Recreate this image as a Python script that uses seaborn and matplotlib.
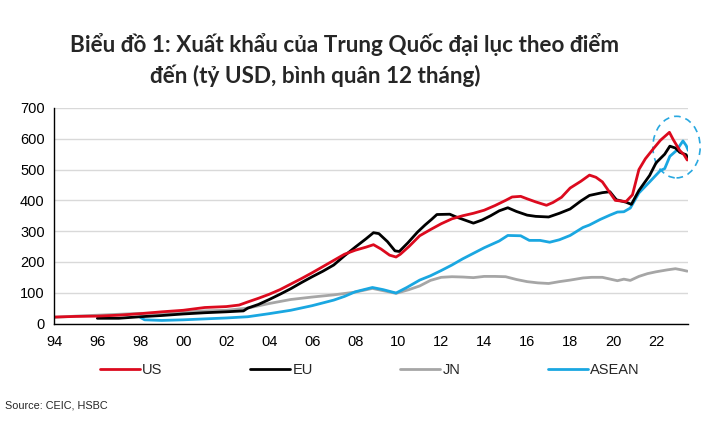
import numpy as np
import pandas as pd
import matplotlib
matplotlib.use("Agg")
import matplotlib.pyplot as plt
from matplotlib.patches import Ellipse
import seaborn as sns

# ---------------- data (12m rolling exports, bn USD) ----------------
us_years = [1994.0, 1995.0, 1996.0, 1997.0, 1998.0, 1999.0, 2000.0, 2001.0, 2002.0, 2002.6,
            2003.0, 2003.5, 2004.0, 2004.5, 2005.0, 2005.5, 2006.0, 2006.5, 2007.0, 2007.5,
            2008.0, 2008.5, 2008.85, 2009.2, 2009.6, 2009.9, 2010.1, 2010.5, 2011.0, 2011.5,
            2012.0, 2012.5, 2013.0, 2013.5, 2014.0, 2014.5, 2015.0, 2015.3, 2015.7, 2016.0,
            2016.4, 2016.9, 2017.2, 2017.6, 2018.0, 2018.5, 2018.9, 2019.2, 2019.5, 2019.8,
            2020.1, 2020.6, 2020.9, 2021.2, 2021.5, 2021.9, 2022.2, 2022.62, 2022.8, 2023.1,
            2023.3, 2023.45]
us_values = [21, 23, 24, 27, 32, 38, 43, 52, 55, 60,
             70, 82, 95, 110, 128, 146, 165, 185, 205, 225,
             238, 248, 256, 242, 222, 216, 225, 250, 285, 305,
             324, 340, 350, 358, 368, 383, 400, 411, 413, 405,
             395, 384, 393, 410, 440, 462, 482, 475, 460, 430,
             400, 396, 418, 500, 535, 570, 595, 621, 597, 562,
             548, 531]

eu_years = [1996.0, 1997.0, 1998.0, 1999.0, 2000.0, 2001.0, 2002.0, 2002.8, 2003.0, 2003.5,
            2004.0, 2004.5, 2005.0, 2005.5, 2006.0, 2006.5, 2007.0, 2007.5, 2008.0, 2008.5,
            2008.85, 2009.1, 2009.5, 2009.85, 2010.05, 2010.45, 2010.9, 2011.25, 2011.55, 2011.8,
            2012.4, 2012.7, 2013.1, 2013.5, 2013.9, 2014.3, 2014.7, 2015.1, 2015.5, 2016.0,
            2016.4, 2017.0, 2017.5, 2018.0, 2018.5, 2018.9, 2019.5, 2019.85, 2020.15, 2020.6,
            2020.85, 2021.2, 2021.7, 2022.0, 2022.4, 2022.64, 2022.9, 2023.1, 2023.4, 2023.45]
eu_values = [17, 17, 22, 26, 31, 35, 38, 41, 50, 62,
             78, 95, 113, 133, 152, 170, 190, 220, 248, 275,
             295, 292, 266, 236, 234, 262, 297, 320, 338, 354,
             355, 346, 336, 326, 336, 350, 366, 376, 364, 352,
             348, 346, 358, 372, 398, 416, 425, 428, 402, 394,
             387, 432, 481, 522, 550, 576, 570, 556, 548, 538]

jn_years = [1994.0, 1995.0, 1996.0, 1997.0, 1998.0, 1999.0, 2000.0, 2001.0, 2002.0, 2003.0,
            2004.0, 2005.0, 2006.0, 2007.0, 2008.0, 2008.8, 2009.2, 2009.9, 2010.5, 2011.0,
            2011.5, 2012.0, 2012.5, 2013.0, 2013.5, 2014.0, 2014.5, 2015.0, 2015.5, 2016.0,
            2016.5, 2017.0, 2017.5, 2018.0, 2018.6, 2019.0, 2019.5, 2020.2, 2020.5, 2020.8,
            2021.2, 2021.6, 2022.0, 2022.5, 2022.9, 2023.2, 2023.45]
jn_values = [20, 24, 27, 30, 33, 34, 37, 41, 43, 50,
             65, 78, 86, 93, 102, 114, 108, 98, 110, 122,
             140, 150, 152, 151, 149, 153, 153, 152, 143, 136,
             132, 130, 136, 141, 148, 150, 150, 139, 144, 140,
             153, 162, 168, 174, 178, 174, 170]

asean_years = [1998.0, 1998.2, 1999.0, 2000.0, 2001.0, 2002.0, 2003.0, 2004.0, 2005.0, 2006.0,
               2007.0, 2007.5, 2008.0, 2008.8, 2009.3, 2009.9, 2010.4, 2011.0, 2011.5, 2012.0,
               2012.5, 2013.0, 2013.5, 2014.0, 2014.7, 2015.1, 2015.7, 2016.1, 2016.6, 2017.05,
               2017.5, 2018.0, 2018.6, 2018.9, 2019.4, 2019.85, 2020.2, 2020.5, 2020.8, 2021.2,
               2021.7, 2022.2, 2022.4, 2022.64, 2022.95, 2023.25, 2023.4, 2023.5]
asean_values = [20, 12, 10, 12, 15, 18, 22, 32, 43, 58,
                76, 88, 103, 117, 110, 99, 117, 141, 155, 172,
                190, 210, 228, 246, 268, 286, 285, 270, 270, 264,
                272, 286, 312, 320, 338, 352, 362, 363, 375, 424,
                460, 497, 503, 543, 562, 593, 578, 562]

series_names = ["US", "EU", "JN", "ASEAN"]
colors = {"US": "#DC0A1E", "EU": "#000000", "JN": "#A6A6A6", "ASEAN": "#1AA7E1"}

x_ticks = list(range(1994, 2023, 2))
x_labels = [f"{y % 100:02d}" for y in x_ticks]
y_ticks = list(range(0, 701, 100))

title_line1 = "Biểu đồ 1: Xuất khẩu của Trung Quốc đại lục theo điểm"
title_line2 = "đến (tỷ USD, bình quân 12 tháng)"
source_text = "Source: CEIC, HSBC"

# ---------------- build long table ----------------
frames = []
for name, yrs, vals in [("US", us_years, us_values), ("EU", eu_years, eu_values),
                        ("JN", jn_years, jn_values), ("ASEAN", asean_years, asean_values)]:
    frames.append(pd.DataFrame({"year": yrs, "value": vals, "series": name}))
df = pd.concat(frames, ignore_index=True)

# ---------------- plot ----------------
sns.set_theme(style="white")
narrow = ["Liberation Sans Narrow", "Liberation Sans", "DejaVu Sans"]
plt.rcParams["font.family"] = narrow

fig = plt.figure(figsize=(7.13, 4.23), dpi=100)
ax = fig.add_axes([0.0762, 0.2352, 0.8892, 0.5095])

order = ["JN", "ASEAN", "EU", "US"]
for name in order:
    sub = df[df["series"] == name]
    sns.lineplot(data=sub, x="year", y="value", ax=ax, color=colors[name],
                 linewidth=2.0, estimator=None, sort=False, label=name, legend=False)

ax.set_xlim(1994, 2023.5)
ax.set_ylim(0, 700)
ax.set_xticks(x_ticks)
ax.set_xticklabels(x_labels)
ax.set_yticks(y_ticks)
ax.set_xlabel("")
ax.set_ylabel("")
ax.yaxis.grid(True, color="#D9D9D9", linewidth=1.0)
ax.xaxis.grid(False)
ax.set_axisbelow(True)
for s in ["top", "right"]:
    ax.spines[s].set_visible(False)
for s in ["left", "bottom"]:
    ax.spines[s].set_color("black")
    ax.spines[s].set_linewidth(1.0)
ax.tick_params(axis="both", which="major", labelsize=10.5, colors="black",
               direction="out", length=4, width=1.0, pad=3)
ax.tick_params(axis="x", length=5)

# dashed ellipse highlighting recent peak
ell = Ellipse((2022.95, 573), width=2.2, height=200, fill=False,
              edgecolor="#29A8E0", linestyle=(0, (4, 3)), linewidth=1.2, clip_on=False)
ax.add_patch(ell)

# legend
line_map = {l.get_label(): l for l in ax.get_lines()}
handles = [line_map[n] for n in series_names]
fig.legend(handles, series_names, loc="center left", bbox_to_anchor=(0.132, 0.125),
           ncol=4, frameon=False, fontsize=10.5, handlelength=2.75, handletextpad=0.15,
           columnspacing=6.0, borderaxespad=0)

# title
fig.text(0.098, 0.895, title_line1, fontsize=16.2, fontweight="bold",
         family=["Lato", "DejaVu Sans"], va="center", ha="left")
fig.text(0.21, 0.822, title_line2, fontsize=16.2, fontweight="bold",
         family=["Lato", "DejaVu Sans"], va="center", ha="left")

fig.text(0.007, 0.042, source_text, fontsize=7.8, va="center", ha="left")

fig.savefig("out.png", dpi=100)
